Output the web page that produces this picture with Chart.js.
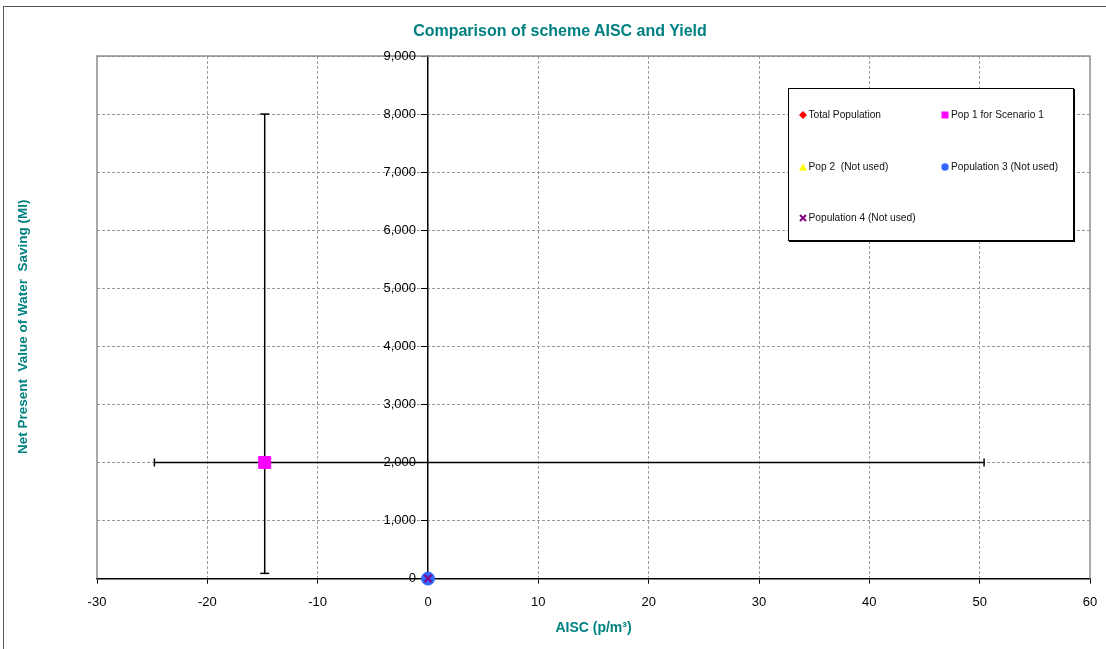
<!DOCTYPE html>
<html><head><meta charset="utf-8">
<script src="https://cdn.jsdelivr.net/npm/chart.js@4"></script>
<style>
html,body{margin:0;padding:0;background:#fff;}
#wrap{position:relative;width:1106px;height:649px;overflow:hidden;font-family:"Liberation Sans",Arial,sans-serif;}
#frame{position:absolute;left:3px;top:6px;width:1200px;height:700px;border:1px solid #555;box-sizing:border-box;pointer-events:none;}
#c{position:absolute;left:0;top:0;}
#title{position:absolute;left:0;top:22px;width:1120px;text-align:center;font-weight:bold;font-size:16px;line-height:18px;color:#008080;white-space:pre;}
#legend{position:absolute;left:788px;top:88px;width:286px;height:153px;border:1px solid #000;box-shadow:1px 1px 0 #000;background:#fff;box-sizing:border-box;}
.li{position:absolute;font-size:10.2px;color:#111;white-space:pre;line-height:12px;}
.li svg{position:absolute;left:-10px;top:2px;}
</style>
</head><body>
<div id="wrap">
<canvas id="c" width="1106" height="649"></canvas>
<div id="frame"></div>
<div id="title"></div>
<div id="legend"></div>
</div>
<script>
// ---- data ----
const chartTitle = "Comparison of scheme AISC and Yield";
const xAxisTitle = "AISC (p/m\u00B3)";
const yAxisTitle = "Net Present  Value of Water  Saving (Ml)";
const seriesNames = ["Total Population", "Pop 1 for Scenario 1", "Pop 2  (Not used)", "Population 3 (Not used)", "Population 4 (Not used)"];
const seriesColors = ["#FF0000", "#FF00FF", "#FFFF00", "#3366FF", "#800080"];
const aiscValues = [0, -14.8, 0, 0, 0];
const npvValues = [0, 2000, 0, 0, 0];
const pop1AiscErrorRange = [-24.8, 50.4];
const pop1NpvErrorRange = [90, 8000];
const xTickValues = [-30, -20, -10, 0, 10, 20, 30, 40, 50, 60];
const yTickValues = [0, 1000, 2000, 3000, 4000, 5000, 6000, 7000, 8000, 9000];

const FONT = "'Liberation Sans', Arial, sans-serif";
document.getElementById('title').textContent = chartTitle;

const styles = [
  {pointStyle: 'rectRot', radius: 4, order: 3, bw: 1},
  {pointStyle: 'rect', radius: 8.5, order: 4, bw: 1},
  {pointStyle: 'triangle', radius: 4.5, order: 2, bw: 1},
  {pointStyle: 'circle', radius: 6.5, order: 1, bw: 1},
  {pointStyle: 'crossRot', radius: 5, order: 0, bw: 2}
];

const datasets = seriesNames.map((name, i) => ({
  label: name,
  type: 'scatter',
  data: [{x: aiscValues[i], y: npvValues[i]}],
  pointStyle: styles[i].pointStyle,
  pointRadius: styles[i].radius,
  pointBackgroundColor: seriesColors[i],
  pointBorderColor: seriesColors[i],
  pointBorderWidth: styles[i].bw,
  order: styles[i].order,
  clip: false
}));
// error bars for Pop 1
datasets.push({
  label: 'errY', type: 'line', showLine: true,
  data: [{x: aiscValues[1], y: pop1NpvErrorRange[0]}, {x: aiscValues[1], y: pop1NpvErrorRange[1]}],
  borderColor: '#000', borderWidth: 1.5, pointStyle: 'line', pointRadius: 4.5,
  pointBorderColor: '#000', pointBorderWidth: 1.5, pointRotation: 0, order: 10, clip: false
});
datasets.push({
  label: 'errX', type: 'line', showLine: true,
  data: [{x: pop1AiscErrorRange[0], y: npvValues[1]}, {x: pop1AiscErrorRange[1], y: npvValues[1]}],
  borderColor: '#000', borderWidth: 1.5, pointStyle: 'line', pointRadius: 4,
  pointBorderColor: '#000', pointBorderWidth: 1.5, pointRotation: 90, order: 10, clip: false
});

const plotBorder = {
  id: 'plotBorder',
  beforeDatasetsDraw(chart) {
    const {ctx, chartArea: a} = chart;
    ctx.save();
    ctx.strokeStyle = '#8c8c8c';
    ctx.lineWidth = 1.5;
    ctx.beginPath();
    ctx.moveTo(a.left, a.bottom);
    ctx.lineTo(a.left, a.top);
    ctx.lineTo(a.right, a.top);
    ctx.lineTo(a.right, a.bottom);
    ctx.stroke();
    ctx.restore();
  }
};

// y tick labels placed to the left of the crossing axis at x = 0
const yLabels = {
  id: 'yLabels',
  afterDatasetsDraw(chart) {
    const {ctx, scales: {x, y}} = chart;
    const px = x.getPixelForValue(0);
    ctx.save();
    ctx.font = '13px ' + FONT;
    ctx.fillStyle = '#000';
    ctx.textAlign = 'right';
    ctx.textBaseline = 'middle';
    yTickValues.forEach(v => ctx.fillText(v.toLocaleString('en-US'), px - 12, y.getPixelForValue(v)));
    ctx.restore();
  }
};

const gridColorX = c => (c.tick && (c.tick.value === 0 || c.tick.value === -30 || c.tick.value === 60)) ? 'rgba(0,0,0,0)' : '#9a9a9a';
const gridColorY = c => (c.tick && c.tick.value === 0) ? 'rgba(0,0,0,0)' : '#9a9a9a';

new Chart(document.getElementById('c'), {
  type: 'scatter',
  data: {datasets},
  options: {
    responsive: false, animation: false, devicePixelRatio: 1,
    layout: {padding: {left: 4, right: 16, top: 56, bottom: 12}},
    plugins: {legend: {display: false}, tooltip: {enabled: false}, title: {display: false}},
    scales: {
      x: {
        type: 'linear', position: 'bottom', min: -30, max: 60,
        afterBuildTicks: s => { s.ticks = xTickValues.map(v => ({value: v})); },
        afterFit: s => { s.paddingRight = 0; s.paddingLeft = 0; },
        ticks: {color: '#000', font: {family: FONT, size: 13}, padding: 11, maxRotation: 0},
        grid: {color: gridColorX, lineWidth: 1, tickColor: '#000', tickLength: 5, tickWidth: 1},
        border: {color: '#000', width: 1.5, dash: [3, 2]},
        title: {display: true, text: xAxisTitle, color: '#008080',
          font: {family: FONT, size: 14, weight: 'bold'}, padding: {top: -1, bottom: 0}}
      },
      y: {
        type: 'linear', position: {x: 0}, min: 0, max: 9000,
        afterBuildTicks: s => { s.ticks = yTickValues.map(v => ({value: v})); },
        afterFit: s => { s.paddingTop = 0; s.paddingBottom = 0; s.paddingRight = 0; s.paddingLeft = 0; },
        ticks: {display: false},
        grid: {color: gridColorY, lineWidth: 1, tickColor: '#000', tickLength: 6, tickWidth: 1},
        border: {color: '#000', width: 1.5, dash: [3, 2]}
      },
      yTitle: {
        type: 'linear', position: 'left', axis: 'y',
        ticks: {display: false}, grid: {display: false}, border: {display: false},
        title: {display: true, text: yAxisTitle + '     ', color: '#008080',
          font: {family: FONT, size: 13.5, weight: 'bold'}, padding: {top: 11, bottom: 0}},
        afterFit: s => { s.width = 93; }
      }
    }
  },
  plugins: [plotBorder, yLabels]
});

// legend (HTML overlay)
const legendPos = [[19.5, 20], [162, 20], [19.5, 71.5], [162, 71.5], [19.5, 122.5]];
const markerSvg = [
  '<svg width="8" height="8"><polygon points="4,0 8,4 4,8 0,4" fill="#FF0000"/></svg>',
  '<svg width="8" height="8"><rect x="0.5" y="0.5" width="7" height="7" fill="#FF00FF"/></svg>',
  '<svg width="8" height="8"><polygon points="4,0.5 8,7.5 0,7.5" fill="#FFFF00"/></svg>',
  '<svg width="8" height="8"><circle cx="4" cy="4" r="3.7" fill="#3366FF"/></svg>',
  '<svg width="8" height="8"><path d="M1,1 L7,7 M7,1 L1,7" stroke="#800080" stroke-width="2"/></svg>'
];
const leg = document.getElementById('legend');
seriesNames.forEach((n, i) => {
  const d = document.createElement('div');
  d.className = 'li';
  d.style.left = legendPos[i][0] + 'px';
  d.style.top = legendPos[i][1] + 'px';
  d.innerHTML = markerSvg[i];
  d.appendChild(document.createTextNode(n));
  leg.appendChild(d);
});
</script>
</body></html>
